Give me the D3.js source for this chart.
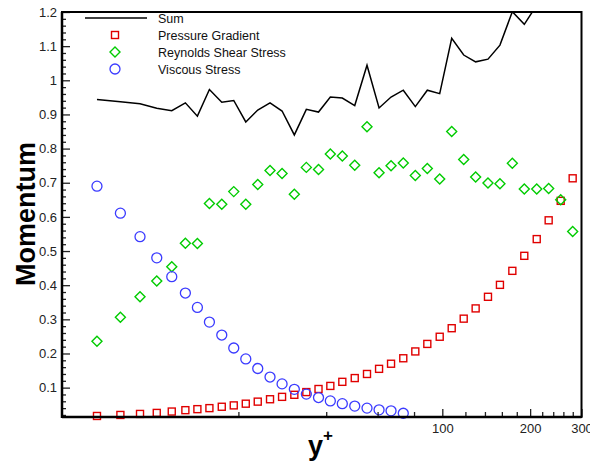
<!DOCTYPE html>
<html>
<head>
<meta charset="utf-8">
<script src="https://cdn.jsdelivr.net/npm/d3@7"></script>
<style>
  body { margin: 0; background: #fff; }
  svg { display: block; font-family: "Liberation Sans", Arial, sans-serif; }
</style>
</head>
<body>
<div id="root"></div>
<script>
// y+ positions (log axis)
const yPlus = [6.55, 7.88, 9.20, 10.50, 11.82, 13.16, 14.47, 15.91, 17.54, 19.28,
  21.20, 23.30, 25.67, 28.23, 31.10, 34.19, 37.64, 41.32, 45.42, 50.10,
  55.19, 60.70, 66.72, 73.49, 80.81, 88.84, 97.97, 107.7, 118.4, 130.1,
  143.4, 157.6, 173.8, 191.0, 210.7, 231.5, 254.6, 279.8];

const sumValues = [0.944, 0.937, 0.931, 0.918, 0.911, 0.934, 0.895, 0.973, 0.936, 0.941,
  0.878, 0.913, 0.934, 0.910, 0.840, 0.915, 0.907, 0.951, 0.948, 0.926,
  1.044, 0.919, 0.951, 0.971, 0.923, 0.971, 0.961, 1.123, 1.074, 1.054,
  1.062, 1.103, 1.201, 1.164, 1.22, 1.27, 1.30, 1.27];

const pressureGradient = [0.017, 0.020, 0.023, 0.026, 0.030, 0.034, 0.037, 0.040, 0.044, 0.048,
  0.053, 0.059, 0.066, 0.073, 0.079, 0.087, 0.096, 0.105, 0.117, 0.128,
  0.140, 0.155, 0.170, 0.186, 0.206, 0.228, 0.249, 0.274, 0.302, 0.332,
  0.366, 0.401, 0.442, 0.486, 0.535, 0.590, 0.647, 0.713];

const reynoldsStress = [0.236, 0.306, 0.366, 0.412, 0.454, 0.523, 0.522, 0.639, 0.637, 0.674,
  0.637, 0.695, 0.736, 0.727, 0.666, 0.745, 0.739, 0.784, 0.778, 0.751,
  0.864, 0.729, 0.750, 0.758, 0.721, 0.742, 0.711, 0.850, 0.768, 0.717,
  0.699, 0.697, 0.757, 0.682, 0.682, 0.683, 0.650, 0.557];

// viscous stress only shown for the first 24 points
const viscousStress = [0.690, 0.611, 0.542, 0.480, 0.425, 0.377, 0.335, 0.292, 0.254, 0.216,
  0.184, 0.156, 0.131, 0.111, 0.095, 0.081, 0.071, 0.061, 0.053, 0.046,
  0.040, 0.035, 0.032, 0.025];

const yTicks = [0.1, 0.2, 0.3, 0.4, 0.5, 0.6, 0.7, 0.8, 0.9, 1.0, 1.1, 1.2];
const yTickLabels = ["0.1", "0.2", "0.3", "0.4", "0.5", "0.6", "0.7", "0.8", "0.9", "1", "1.1", "1.2"];
const yMinorTicks = d3.range(0.02, 1.2, 0.02).filter(v => Math.abs(v * 10 - Math.round(v * 10)) > 1e-6);
const xTicks = [100, 200, 300];
const xTickLabels = ["100", "200", "300"];
const xMinorTicks = [20, 40, 60, 80, 120, 140, 160, 180, 220, 240, 260, 280];

const seriesNames = ["Sum", "Pressure Gradient", "Reynolds Shear Stress", "Viscous Stress"];
const red = "#e00000", green = "#00cc00", blue = "#3b3bff";

const width = 590, height = 468;
const plotLeft = 62, plotRight = 581.5, plotTop = 12, plotBottom = 417;

const x = d3.scaleLog().domain([4.97, 300]).range([plotLeft, plotRight]);
const y = d3.scaleLinear().domain([0.014, 1.2]).range([plotBottom, plotTop]);

const svg = d3.select("#root").append("svg")
  .attr("width", width)
  .attr("height", height);

svg.append("clipPath").attr("id", "plotclip")
  .append("rect")
  .attr("x", plotLeft).attr("y", plotTop)
  .attr("width", plotRight - plotLeft).attr("height", plotBottom - plotTop);

// sum line
const line = d3.line().x((d, i) => x(yPlus[i])).y(d => y(d));
svg.append("path")
  .datum(sumValues)
  .attr("clip-path", "url(#plotclip)")
  .attr("fill", "none")
  .attr("stroke", "#000")
  .attr("stroke-width", 1.5)
  .attr("d", line);

// pressure gradient squares
svg.append("g").selectAll("rect")
  .data(pressureGradient)
  .join("rect")
  .attr("x", (d, i) => x(yPlus[i]) - 3.5)
  .attr("y", d => y(d) - 3.5)
  .attr("width", 7).attr("height", 7)
  .attr("fill", "none")
  .attr("stroke", red)
  .attr("stroke-width", 1.4);

// reynolds diamonds
const diamond = (cx, cy, r) => `M${cx},${cy - r}L${cx + r},${cy}L${cx},${cy + r}L${cx - r},${cy}Z`;
svg.append("g").selectAll("path")
  .data(reynoldsStress)
  .join("path")
  .attr("d", (d, i) => diamond(x(yPlus[i]), y(d), 5))
  .attr("fill", "none")
  .attr("stroke", green)
  .attr("stroke-width", 1.4);

// viscous circles
svg.append("g").selectAll("circle")
  .data(viscousStress)
  .join("circle")
  .attr("cx", (d, i) => x(yPlus[i]))
  .attr("cy", d => y(d))
  .attr("r", 5)
  .attr("fill", "none")
  .attr("stroke", blue)
  .attr("stroke-width", 1.3);

// axes
svg.append("g")
  .attr("transform", `translate(${plotLeft},0)`)
  .call(d3.axisLeft(y).tickValues(yTicks).tickFormat((d, i) => yTickLabels[i])
    .tickSize(-8).tickPadding(5).tickSizeOuter(0));
svg.append("g")
  .attr("transform", `translate(${plotLeft},0)`)
  .call(d3.axisLeft(y).tickValues(yMinorTicks).tickFormat("").tickSize(-4).tickSizeOuter(0))
  .call(g => g.select(".domain").remove());

svg.append("g")
  .attr("transform", `translate(0,${plotBottom})`)
  .call(d3.axisBottom(x).tickValues(xTicks).tickFormat((d, i) => xTickLabels[i])
    .tickSize(-8).tickPadding(7).tickSizeOuter(0));
svg.append("g")
  .attr("transform", `translate(0,${plotBottom})`)
  .call(d3.axisBottom(x).tickValues(xMinorTicks).tickFormat("").tickSize(-5).tickSizeOuter(0))
  .call(g => g.select(".domain").remove());

svg.selectAll(".tick line").attr("stroke", "#222").attr("stroke-width", 1.3);
svg.selectAll(".tick text").attr("font-size", 13).attr("fill", "#222")
  .attr("font-family", "'Liberation Sans', Arial, sans-serif");

// frame
svg.append("rect")
  .attr("x", plotLeft).attr("y", plotTop)
  .attr("width", plotRight - plotLeft).attr("height", plotBottom - plotTop)
  .attr("fill", "none").attr("stroke", "#000").attr("stroke-width", 2);
svg.append("line").attr("x1", plotLeft).attr("x2", plotLeft).attr("y1", plotTop).attr("y2", plotBottom + 1)
  .attr("stroke", "#000").attr("stroke-width", 2.5);
svg.append("line").attr("x1", plotLeft).attr("x2", plotRight).attr("y1", plotBottom).attr("y2", plotBottom)
  .attr("stroke", "#000").attr("stroke-width", 2.5);

// axis titles
svg.append("text")
  .attr("transform", "translate(35,214) rotate(-90)")
  .attr("text-anchor", "middle")
  .attr("font-size", 27).attr("font-weight", "bold")
  .text("Momentum");

const xt = svg.append("text")
  .attr("x", 308).attr("y", 455)
  .attr("font-size", 27).attr("font-weight", "bold");
xt.append("tspan").text("y");
xt.append("tspan").attr("dy", -14).attr("font-size", 17).text("+");

// legend
const legend = svg.append("g").attr("font-size", 12.5);
const rows = [18, 35, 52, 69];
legend.append("line").attr("x1", 85).attr("x2", 147).attr("y1", rows[0]).attr("y2", rows[0])
  .attr("stroke", "#000").attr("stroke-width", 1.5);
legend.append("rect").attr("x", 115 - 3.5).attr("y", rows[1] - 3.5).attr("width", 7).attr("height", 7)
  .attr("fill", "none").attr("stroke", red).attr("stroke-width", 1.4);
legend.append("path").attr("d", diamond(115, rows[2], 5))
  .attr("fill", "none").attr("stroke", green).attr("stroke-width", 1.4);
legend.append("circle").attr("cx", 115).attr("cy", rows[3]).attr("r", 5)
  .attr("fill", "none").attr("stroke", blue).attr("stroke-width", 1.3);
legend.selectAll("text.lbl")
  .data(seriesNames)
  .join("text")
  .attr("class", "lbl")
  .attr("x", 158)
  .attr("y", (d, i) => rows[i] + 4.5)
  .attr("fill", "#111")
  .text(d => d);
</script>
</body>
</html>
